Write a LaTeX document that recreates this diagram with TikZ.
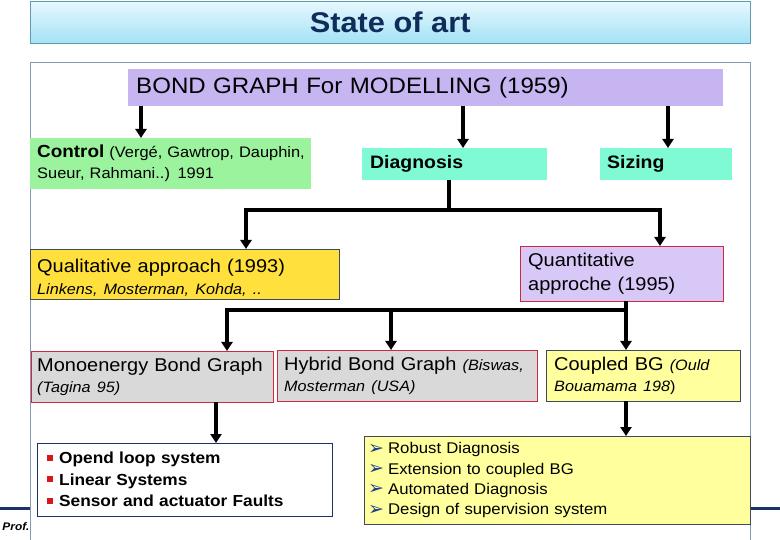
\documentclass[tikz,border=0pt]{standalone}
\usepackage{fontspec}
\setmainfont[FakeStretch=1.08]{Liberation Sans}
\newfontfamily\symfont{DejaVu Sans}
\usetikzlibrary{arrows.meta}
\definecolor{titletop}{HTML}{E6F8FE}
\definecolor{titlebot}{HTML}{A4E2F6}
\definecolor{titleline}{HTML}{5E9CAE}
\definecolor{titletext}{HTML}{0F2C5A}
\definecolor{frameline}{HTML}{8498B2}
\definecolor{bondfill}{HTML}{C7B5F2}
\definecolor{ctrlfill}{HTML}{9CF39E}
\definecolor{diagfill}{HTML}{80F9D5}
\definecolor{qualfill}{HTML}{FFE03C}
\definecolor{quantfill}{HTML}{D8C8F7}
\definecolor{redline}{HTML}{D0283C}
\definecolor{grayfill}{HTML}{D9D9D9}
\definecolor{yellowfill}{HTML}{FFFF9E}
\definecolor{slateline}{HTML}{3E4A5E}
\definecolor{navy}{HTML}{1B3366}
\definecolor{bulred}{HTML}{D81818}
\definecolor{bularrow}{HTML}{1E3C8C}
\tikzset{
  box/.style={draw, anchor=north west, inner xsep=7pt, inner ysep=0pt, align=left},
  arr/.style={line width=3.2pt, -{Triangle[width=11pt,length=9pt]}},
}
\newcommand{\redbul}{\textcolor{bulred}{\rule[3pt]{6pt}{6pt}}\hspace{6pt}}
\newcommand{\arrbul}{\raisebox{-0.5pt}{\symfont\fontsize{19}{16}\selectfont\textcolor{bularrow}{➢}}\hspace{4pt}}
\begin{document}
\begin{tikzpicture}[x=1pt,y=-1pt]
  \useasboundingbox (0,0) rectangle (780,540);
  % title and frame
  \node[box, draw=titleline, top color=titletop, bottom color=titlebot, minimum width=720pt, minimum height=42pt, align=center, text=titletext, font=\fontsize{28.5}{32}\selectfont\bfseries] (title) at (30,1) {State of art};
  \draw[frameline, line width=0.8pt] (30,540) -- (30,62) -- (750,62) -- (750,540);
  \draw[navy, line width=3pt] (0,508) -- (30,508) (750,508) -- (780,508);
  \node[font=\fontsize{11}{13}\selectfont\bfseries\itshape, inner sep=0] (prof) at (16,527) {Prof.};
  % boxes
  \node[box, draw=none, fill=bondfill, minimum width=595pt, minimum height=37pt, text width=579pt, inner xsep=8pt, font=\fontsize{22.3}{24}\selectfont] (bond) at (128,69) {BOND GRAPH For MODELLING (1959)};
  \node[box, draw=none, fill=ctrlfill, minimum width=281pt, minimum height=51pt, text width=275pt, inner xsep=3pt, font=\fontsize{15.2}{21}\selectfont] (ctrl) at (30,138) {\hspace*{4pt}{\fontsize{17.5}{21}\selectfont\bfseries Control} (Vergé, Gawtrop, Dauphin,\\ \hspace*{4pt}Sueur, Rahmani..) 1991};
  \node[box, draw=none, fill=diagfill, minimum width=185pt, minimum height=32pt, text width=169pt, inner xsep=8pt, font=\fontsize{18}{21}\selectfont\bfseries] (diag) at (362,148) {Diagnosis};
  \node[box, draw=none, fill=diagfill, minimum width=132pt, minimum height=32pt, text width=118pt, font=\fontsize{18}{21}\selectfont\bfseries] (size) at (600,148) {Sizing};
  \node[box, draw=slateline, fill=qualfill, minimum width=309pt, minimum height=50pt, text width=295pt, font=\fontsize{18.5}{22}\selectfont] (qual) at (30,249) {\rule{0pt}{20pt}Qualitative approach (1993)\\ {\fontsize{15}{22}\selectfont\itshape Linkens, Mosterman, Kohda, ..}};
  \node[box, draw=redline, fill=quantfill, minimum width=203pt, minimum height=55pt, text width=187pt, inner xsep=8pt, font=\fontsize{18.5}{24}\selectfont] (quant) at (520,246) {Quantitative\\ approche (1995)};
  \node[box, draw=redline, fill=grayfill, minimum width=242pt, minimum height=51pt, text width=236pt, inner xsep=3pt, font=\fontsize{18.5}{21}\selectfont] (mono) at (31,351) {\hspace*{3pt}Monoenergy Bond Graph\\ \hspace*{3pt}{\fontsize{15}{21}\selectfont\itshape (Tagina 95)}};
  \node[box, draw=redline, fill=grayfill, minimum width=260pt, minimum height=51pt, text width=254pt, inner xsep=3pt, font=\fontsize{18.5}{21}\selectfont] (hyb) at (277,350) {\hspace*{4pt}Hybrid Bond Graph {\fontsize{15}{21}\selectfont\itshape (Biswas,}\\ \hspace*{4pt}{\fontsize{15}{21}\selectfont\itshape Mosterman (USA)}};
  \node[box, draw=slateline, fill=yellowfill, minimum width=194pt, minimum height=51pt, text width=188pt, inner xsep=3pt, font=\fontsize{18.5}{21}\selectfont] (coup) at (546,350) {\hspace*{5pt}Coupled BG {\fontsize{15}{21}\selectfont\itshape (Ould}\\ \hspace*{5pt}{\fontsize{15}{21}\selectfont{\itshape Bouamama 198})}};
  \node[box, draw=navy, fill=white, minimum width=295pt, minimum height=73pt, text width=281pt, font=\fontsize{16}{21.5}\selectfont\bfseries] (opl) at (37,443) {\hspace*{3pt}\redbul Opend loop system\\ \hspace*{3pt}\redbul Linear Systems\\ \hspace*{3pt}\redbul Sensor and actuator Faults};
  \node[box, draw=slateline, fill=yellowfill, minimum width=386pt, minimum height=88pt, text width=378pt, inner xsep=4pt, font=\fontsize{15.5}{20.3}\selectfont] (rob) at (364,436) {\arrbul Robust Diagnosis\\ \arrbul Extension to coupled BG\\ \arrbul Automated Diagnosis\\ \arrbul Design of supervision system};
  % connectors
  \coordinate (k1) at (141,0);
  \coordinate (k2) at (463,0);
  \coordinate (k3) at (668,0);
  \coordinate (k4) at (246,0);
  \coordinate (k5) at (660,0);
  \coordinate (k6) at (227,0);
  \coordinate (k7) at (391,0);
  \coordinate (k8) at (216,0);
  \coordinate (j1) at (449,210);
  \coordinate (j2) at (626,310);
  \draw[arr] (bond.south -| k1) -- (ctrl.north -| k1);
  \draw[arr] (bond.south -| k2) -- (diag.north -| k2);
  \draw[arr] (bond.south -| k3) -- (size.north -| k3);
  \draw[arr] (diag.south -| j1) -- (j1) -| (qual.north -| k4);
  \draw[arr] (j1) -| (quant.north -| k5);
  \draw[arr] (quant.south -| j2) -- (coup.north -| j2);
  \draw[arr] (j2) -| (mono.north -| k6);
  \draw[arr] (j2 -| k7) -- (hyb.north -| k7);
  \draw[arr] (mono.south -| k8) -- (opl.north -| k8);
  \draw[arr] (coup.south -| j2) -- (rob.north -| j2);
\end{tikzpicture}
\end{document}
